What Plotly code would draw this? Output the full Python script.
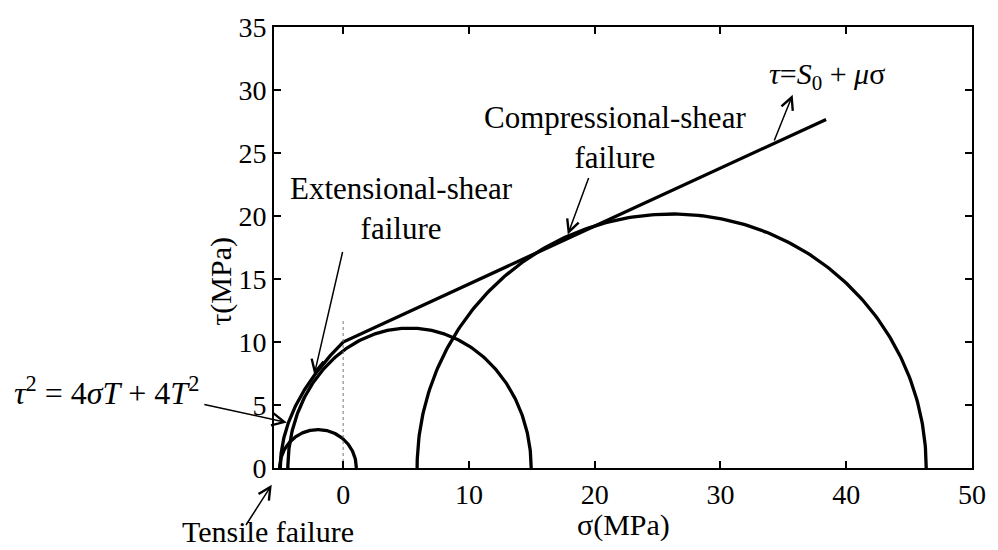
import numpy as np
import plotly.graph_objects as go

# ---- data ----
# Mohr circles: minor / major principal stress and peak shear (MPa)
circle_sigma3 = [-5.05, -4.40, 5.88]
circle_sigma1 = [1.05, 14.95, 46.36]
circle_tau_peak = [3.05, 11.10, 20.16]

# Failure envelope parameters
tensile_T = 5.0          # tensile strength, parabola  tau^2 = 4 sigma T + 4 T^2
cohesion_S0 = 10.0       # Coulomb line  tau = S0 + mu sigma
friction_mu = 0.46
line_sigma_end = 38.4

x_ticks = [0, 10, 20, 30, 40, 50]
y_ticks = [0, 5, 10, 15, 20, 25, 30, 35]
dotted_top = 11.66

FONT = "Liberation Serif"

fig = go.Figure()

# Mohr circles (upper halves)
theta = np.linspace(0, np.pi, 241)
for s3, s1, tp in zip(circle_sigma3, circle_sigma1, circle_tau_peak):
    c = (s1 + s3) / 2.0
    a = (s1 - s3) / 2.0
    fig.add_trace(go.Scatter(x=c + a * np.cos(theta), y=tp * np.sin(theta),
                             mode="lines", line=dict(color="black", width=3.3),
                             hoverinfo="skip", showlegend=False))

# Envelope: Griffith parabola from -T to 0, then Coulomb line
tau_par = np.linspace(0, 2 * tensile_T, 121)
sig_par = tau_par ** 2 / (4 * tensile_T) - tensile_T
env_x = list(sig_par) + [line_sigma_end]
env_y = list(tau_par) + [cohesion_S0 + friction_mu * line_sigma_end]
fig.add_trace(go.Scatter(x=env_x, y=env_y, mode="lines",
                         line=dict(color="black", width=3.3),
                         hoverinfo="skip", showlegend=False))

# thin dotted vertical at sigma = 0
fig.add_trace(go.Scatter(x=[0, 0], y=[0, dotted_top], mode="lines",
                         line=dict(color="#777777", width=1, dash="dot"),
                         hoverinfo="skip", showlegend=False))

txt = dict(family=FONT, size=31, color="black")


def arrow_data(hx, hy, tx, ty):
    fig.add_annotation(x=hx, y=hy, ax=tx, ay=ty, xref="x", yref="y",
                       axref="x", ayref="y", text="", showarrow=True,
                       arrowhead=5, arrowsize=1.6, arrowwidth=1.5,
                       arrowcolor="black", standoff=0, startstandoff=0)


fig.add_annotation(x=38.5, y=31.1, xref="x", yref="y", showarrow=False,
                   text="<i>τ</i>=<i>S</i><sub>0</sub> + <i>μ</i>σ",
                   font=dict(family=FONT, size=30, color="black"))
arrow_data(35.74, 29.62, 34.23, 25.88)

fig.add_annotation(x=21.6, y=26.2, xref="x", yref="y", showarrow=False,
                   text="Compressional-shear<br>failure", font=txt)
arrow_data(17.86, 18.54, 19.56, 23.13)

fig.add_annotation(x=4.65, y=20.6, xref="x", yref="y", showarrow=False,
                   text="Extensional-shear<br>failure", font=txt)
arrow_data(-2.30, 7.42, -0.02, 17.26)

# Griffith criterion label (outside plot area -> paper coords)
fig.add_annotation(x=-0.3748, y=0.1749, xref="paper", yref="paper", showarrow=False,
                   xanchor="left", yanchor="middle",
                   text="<i>τ</i><sup>2</sup> = 4<i>σT</i> + 4<i>T</i><sup>2</sup>",
                   font=dict(family=FONT, size=32, color="black"))
fig.add_annotation(x=-4.48, y=3.61, xref="x", yref="y", ax=-84, ay=-18.4,
                   axref="pixel", ayref="pixel", text="", showarrow=True,
                   arrowhead=5, arrowsize=1.6, arrowwidth=1.5, arrowcolor="black",
                   standoff=0, startstandoff=0)

# Tensile failure label (box anchored to the bottom edge of the page)
fig.add_annotation(x=-0.133, y=-0.1839, xref="paper", yref="paper", showarrow=False,
                   xanchor="left", yanchor="bottom", borderpad=0,
                   text="Tensile failure", font=dict(family=FONT, size=30, color="black"))
fig.add_annotation(x=-0.00325, y=-0.0381, xref="paper", yref="paper", ax=-26.7, ay=41.7,
                   axref="pixel", ayref="pixel", text="", showarrow=True,
                   arrowhead=5, arrowsize=1.6, arrowwidth=1.5, arrowcolor="black",
                   standoff=0, startstandoff=0)

# axis titles
fig.add_annotation(x=0.5, y=-0.130, xref="paper", yref="paper", showarrow=False,
                   text="σ(MPa)", font=dict(family=FONT, size=30, color="black"),
                   yanchor="middle")
fig.add_annotation(x=-0.0764, y=0.424, xref="paper", yref="paper", showarrow=False,
                   text="τ(MPa)", textangle=-90,
                   font=dict(family=FONT, size=30, color="black"),
                   xanchor="center", yanchor="middle")

axis_common = dict(showgrid=False, zeroline=False, showline=True, linecolor="black",
                   linewidth=2, mirror="ticks", ticks="inside", ticklen=7,
                   tickwidth=1.5, tickcolor="black",
                   tickfont=dict(family=FONT, size=28, color="black"))

fig.update_xaxes(range=[-5.5, 50], tickvals=x_ticks, ticktext=[str(v) for v in x_ticks],
                 **axis_common)
fig.update_yaxes(range=[0, 35], tickvals=y_ticks, ticktext=[str(v) for v in y_ticks],
                 **axis_common)

fig.update_layout(width=998, height=550, margin=dict(l=274, r=17, t=22, b=82),
                  plot_bgcolor="white", paper_bgcolor="white", showlegend=False,
                  font=dict(family=FONT, color="black"))

fig.write_html("out.html")
